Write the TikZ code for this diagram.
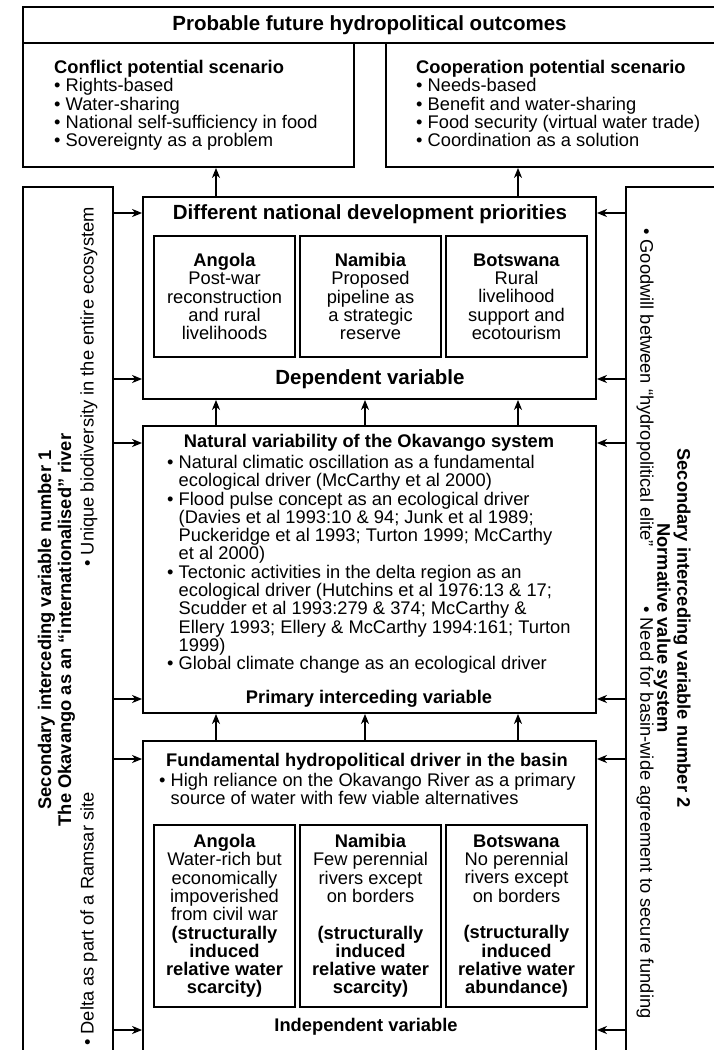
\documentclass[tikz,border=0pt]{standalone}
\usepackage{fontspec}
\setmainfont{Liberation Sans}
\usetikzlibrary{arrows.meta}
\newcommand\bodyfnt{\fontsize{18.3}{18.3}\selectfont}
\newcommand\bigfnt{\fontsize{20.5}{20.5}\selectfont\bfseries}
\newcommand\sidefnt{\fontsize{18.3}{20}\selectfont\bfseries}
\newcommand\bulind{\hphantom{•\ }}
\begin{document}
\begin{tikzpicture}[x=1pt,y=-1pt,
  box/.style={draw, line width=1.8pt, inner sep=0pt},
  inbox/.style={draw, line width=1.8pt, inner sep=0pt, minimum width=141pt, align=center, font=\bodyfnt},
  txt/.style={inner sep=0pt, font=\bodyfnt},
  ttl/.style={inner sep=0pt, font=\bodyfnt\bfseries},
  bigttl/.style={inner sep=0pt, font=\bigfnt},
  arr/.style={line width=1.8pt, -{Stealth[length=10pt,width=8pt,inset=3pt]}},
]
\useasboundingbox (0,0) rectangle (714,1050);
\fill[white] (0,0) rectangle (714,1050);
\begin{scope}
\clip (0,0) rectangle (714,1050);
% outer boxes
\node[box, minimum width=737pt, minimum height=36pt] (topband) at (391.5,25) {};
\node[box, minimum width=331pt, minimum height=124pt] (conflict) at (188.5,105) {};
\node[box, minimum width=374pt, minimum height=124pt] (coop) at (573,105) {};
\node[box, minimum width=90pt, minimum height=913pt] (leftside) at (68,643.5) {};
\node[box, minimum width=134pt, minimum height=913pt] (rightside) at (693,643.5) {};
\node[box, minimum width=453pt, minimum height=202pt] (main) at (369.5,298) {};
\node[box, minimum width=453pt, minimum height=287pt] (natural) at (369.5,569.5) {};
\node[box, minimum width=453pt, minimum height=359pt] (fund) at (369.5,920.5) {};

% top texts
\node[bigttl] (toptitle) at (369.5,25) {Probable future hydropolitical outcomes};
\node[txt, anchor=north west, align=left] (conflicttxt) at (54,60)
  {\textbf{Conflict potential scenario}\\
   •\ Rights-based\\
   •\ Water-sharing\\
   •\ National self-sufficiency in food\\
   •\ Sovereignty as a problem};
\node[txt, anchor=north west, align=left] (cooptxt) at (416,60)
  {\textbf{Cooperation potential scenario}\\
   •\ Needs-based\\
   •\ Benefit and water-sharing\\
   •\ Food security (virtual water trade)\\
   •\ Coordination as a solution};

% dependent variable box
\node[bigttl] (maintitle) at (370,214) {Different national development priorities};
\node[inbox, minimum height=121pt] (angA) at (224.5,296.5)
  {\textbf{Angola}\\Post-war\\reconstruction\\and rural\\livelihoods};
\node[inbox, minimum height=121pt] (namA) at (370.5,296.5)
  {\textbf{Namibia}\\Proposed\\pipeline as\\a strategic\\reserve};
\node[inbox, minimum height=121pt] (botA) at (516.5,296.5)
  {\textbf{Botswana}\\Rural\\livelihood\\support and\\ecotourism};
\node[bigttl] (deplabel) at (370,379) {Dependent variable};

% natural variability box
\node[ttl] (nattitle) at (369,443) {Natural variability of the Okavango system};
\node[txt, anchor=north west, align=left] (natlist) at (167,455)
  {•\ Natural climatic oscillation as a fundamental\\
   \bulind ecological driver (McCarthy et al 2000)\\
   •\ Flood pulse concept as an ecological driver\\
   \bulind (Davies et al 1993:10 \& 94; Junk et al 1989;\\
   \bulind Puckeridge et al 1993; Turton 1999; McCarthy\\
   \bulind et al 2000)\\
   •\ Tectonic activities in the delta region as an\\
   \bulind ecological driver (Hutchins et al 1976:13 \& 17;\\
   \bulind Scudder et al 1993:279 \& 374; McCarthy \&\\
   \bulind Ellery 1993; Ellery \& McCarthy 1994:161; Turton\\
   \bulind 1999)\\
   •\ Global climate change as an ecological driver};
\node[ttl] (primlabel) at (369,699) {Primary interceding variable};

% fundamental driver box
\node[ttl] (fundtitle) at (367,762) {Fundamental hydropolitical driver in the basin};
\node[txt, anchor=north west, align=left] (fundlist) at (159,773)
  {•\ High reliance on the Okavango River as a primary\\
   \bulind source of water with few viable alternatives};
\node[inbox, minimum height=182pt] (angB) at (224.5,916)
  {\textbf{Angola}\\Water-rich but\\economically\\impoverished\\from civil war\\
   \textbf{(structurally}\\\textbf{induced}\\\textbf{relative water}\\\textbf{scarcity)}};
\node[inbox, minimum height=182pt] (namB) at (370.5,916)
  {\textbf{Namibia}\\Few perennial\\rivers except\\on borders\\\mbox{}\\
   \textbf{(structurally}\\\textbf{induced}\\\textbf{relative water}\\\textbf{scarcity)}};
\node[inbox, minimum height=182pt] (botB) at (516.5,916)
  {\textbf{Botswana}\\No perennial\\rivers except\\on borders\\\mbox{}\\
   \textbf{(structurally}\\\textbf{induced}\\\textbf{relative water}\\\textbf{abundance)}};
\node[ttl] (indeplabel) at (366,1027) {Independent variable};

% left side texts
\node[inner sep=0pt, font=\sidefnt, align=center, rotate=90] (lefttitle) at (56.5,630)
  {Secondary interceding variable number 1\\The Okavango as an “internationalised” river};
\node[txt, rotate=90, anchor=mid east] (leftb1) at (91,207)
  {•\ Unique biodiversity in the entire ecosystem};
\node[txt, rotate=90, anchor=mid west] (leftb2) at (91,1046)
  {•\ Delta as part of a Ramsar site};

% right side texts
\node[inner sep=0pt, font=\sidefnt, align=center, rotate=-90] (righttitle) at (672,628)
  {Secondary interceding variable number 2\\Normative value system};
\node[txt, rotate=-90, anchor=mid west] (rightb1) at (643,228)
  {•\ Goodwill between “hydropolitical elite”};
\node[txt, rotate=-90, anchor=mid west] (rightb2) at (643,606)
  {•\ Need for basin-wide agreement to secure funding};

% connector coordinates
\coordinate (xa) at (216,0);
\coordinate (xb) at (365,0);
\coordinate (xc) at (518,0);
\coordinate (ya) at (0,213);
\coordinate (yb) at (0,379);
\coordinate (yc) at (0,443);
\coordinate (yd) at (0,699);
\coordinate (ye) at (0,759);
\coordinate (yf) at (0,1030);

% vertical arrows
\draw[arr] (main.north -| xa) -- (conflict.south -| xa);
\draw[arr] (main.north -| xc) -- (coop.south -| xc);
\foreach \c in {xa,xb,xc}{
  \draw[arr] (natural.north -| \c) -- (main.south -| \c);
  \draw[arr] (fund.north -| \c) -- (natural.south -| \c);
}
% side arrows
\foreach \yy in {ya,yb}{
  \draw[arr] (leftside.east |- \yy) -- (main.west |- \yy);
  \draw[arr] (rightside.west |- \yy) -- (main.east |- \yy);
}
\foreach \yy in {yc,yd}{
  \draw[arr] (leftside.east |- \yy) -- (natural.west |- \yy);
  \draw[arr] (rightside.west |- \yy) -- (natural.east |- \yy);
}
\foreach \yy in {ye,yf}{
  \draw[arr] (leftside.east |- \yy) -- (fund.west |- \yy);
  \draw[arr] (rightside.west |- \yy) -- (fund.east |- \yy);
}
\end{scope}
\end{tikzpicture}
\end{document}
